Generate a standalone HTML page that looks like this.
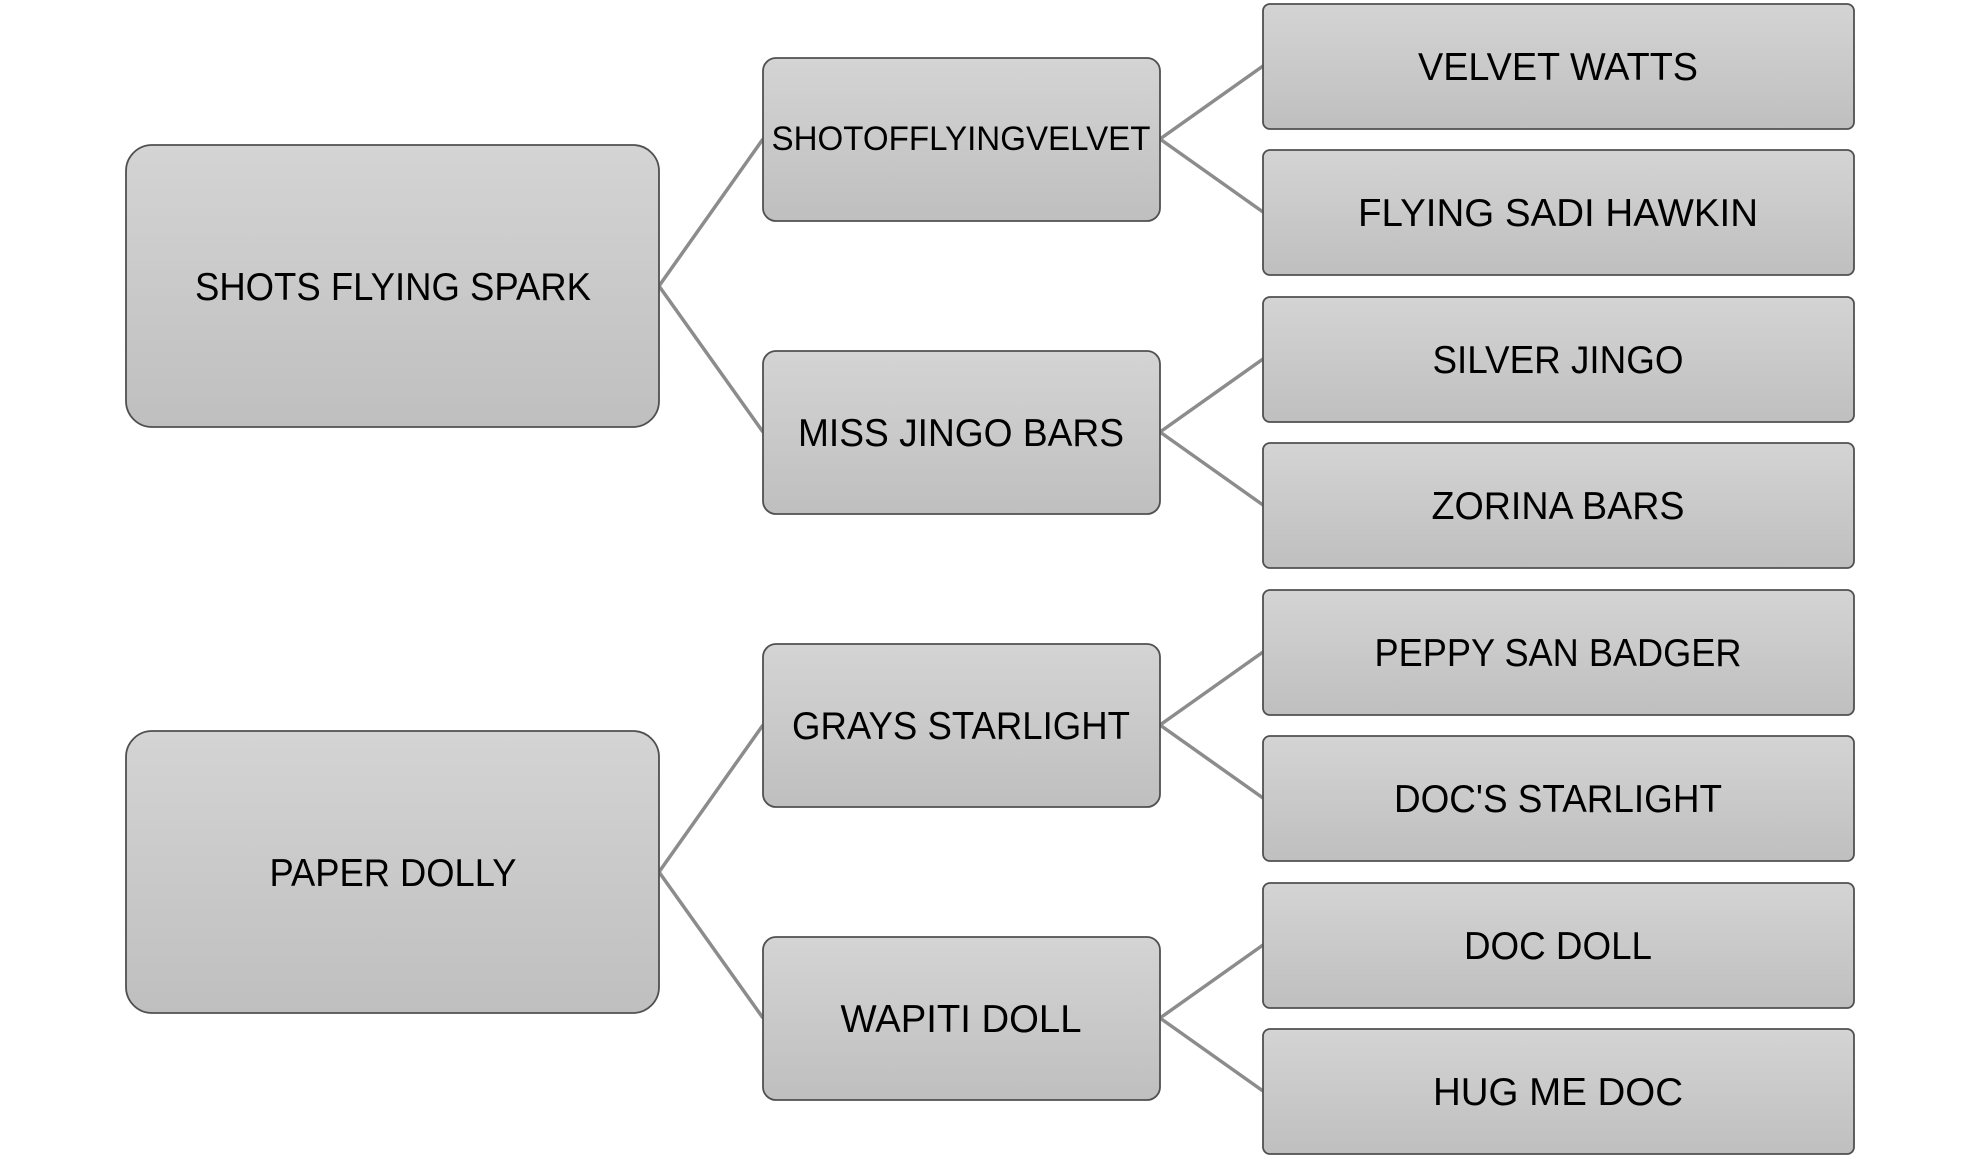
<!DOCTYPE html>
<html><head><meta charset="utf-8"><style>html,body{margin:0;padding:0;background:#fff;}svg{display:block}</style></head>
<body>
<svg width="1980" height="1159" viewBox="0 0 1980 1159" xmlns="http://www.w3.org/2000/svg" font-family="'Liberation Sans', sans-serif">
<defs>
<linearGradient id="g" x1="0" y1="0" x2="0" y2="1"><stop offset="0" stop-color="#d4d4d4"/><stop offset="1" stop-color="#bfbfbf"/></linearGradient>
</defs>
<g stroke="#8c8c8c" stroke-width="3.5" fill="none">
<path d="M659 286 L763 139 M659 286 L763 432 M659 872 L763 725 M659 872 L763 1018"/>
<path d="M1160 139 L1263 66 M1160 139 L1263 212 M1160 432 L1263 359 M1160 432 L1263 505 M1160 725 L1263 652 M1160 725 L1263 798 M1160 1018 L1263 945 M1160 1018 L1263 1091"/>
</g>
<g fill="url(#g)" stroke="#505050" stroke-width="1.8">
<rect x="126" y="145" width="533" height="282" rx="26"/>
<rect x="126" y="731" width="533" height="282" rx="26"/>
<rect x="763" y="58" width="397" height="163" rx="13"/>
<rect x="763" y="351" width="397" height="163" rx="13"/>
<rect x="763" y="644" width="397" height="163" rx="13"/>
<rect x="763" y="937" width="397" height="163" rx="13"/>
<rect x="1263" y="4" width="591" height="125" rx="7"/>
<rect x="1263" y="150" width="591" height="125" rx="7"/>
<rect x="1263" y="297" width="591" height="125" rx="7"/>
<rect x="1263" y="443" width="591" height="125" rx="7"/>
<rect x="1263" y="590" width="591" height="125" rx="7"/>
<rect x="1263" y="736" width="591" height="125" rx="7"/>
<rect x="1263" y="883" width="591" height="125" rx="7"/>
<rect x="1263" y="1029" width="591" height="125" rx="7"/>
</g>
<g fill="#000" font-size="39" text-anchor="middle" lengthAdjust="spacingAndGlyphs">
<text x="393" y="300" textLength="396" lengthAdjust="spacingAndGlyphs">SHOTS FLYING SPARK</text>
<text x="393" y="886" textLength="247" lengthAdjust="spacingAndGlyphs">PAPER DOLLY</text>
<text x="961" y="150" font-size="34" textLength="379" lengthAdjust="spacingAndGlyphs">SHOTOFFLYINGVELVET</text>
<text x="961" y="446" textLength="326" lengthAdjust="spacingAndGlyphs">MISS JINGO BARS</text>
<text x="961" y="739" textLength="338" lengthAdjust="spacingAndGlyphs">GRAYS STARLIGHT</text>
<text x="961" y="1032" textLength="241" lengthAdjust="spacingAndGlyphs">WAPITI DOLL</text>
<text x="1558" y="80" textLength="280" lengthAdjust="spacingAndGlyphs">VELVET WATTS</text>
<text x="1558" y="226" textLength="400" lengthAdjust="spacingAndGlyphs">FLYING SADI HAWKIN</text>
<text x="1558" y="373" textLength="251" lengthAdjust="spacingAndGlyphs">SILVER JINGO</text>
<text x="1558" y="519" textLength="253" lengthAdjust="spacingAndGlyphs">ZORINA BARS</text>
<text x="1558" y="666" textLength="367" lengthAdjust="spacingAndGlyphs">PEPPY SAN BADGER</text>
<text x="1558" y="812" textLength="328" lengthAdjust="spacingAndGlyphs">DOC'S STARLIGHT</text>
<text x="1558" y="959" textLength="188" lengthAdjust="spacingAndGlyphs">DOC DOLL</text>
<text x="1558" y="1105" textLength="250" lengthAdjust="spacingAndGlyphs">HUG ME DOC</text>
</g>
</svg>
</body></html>
